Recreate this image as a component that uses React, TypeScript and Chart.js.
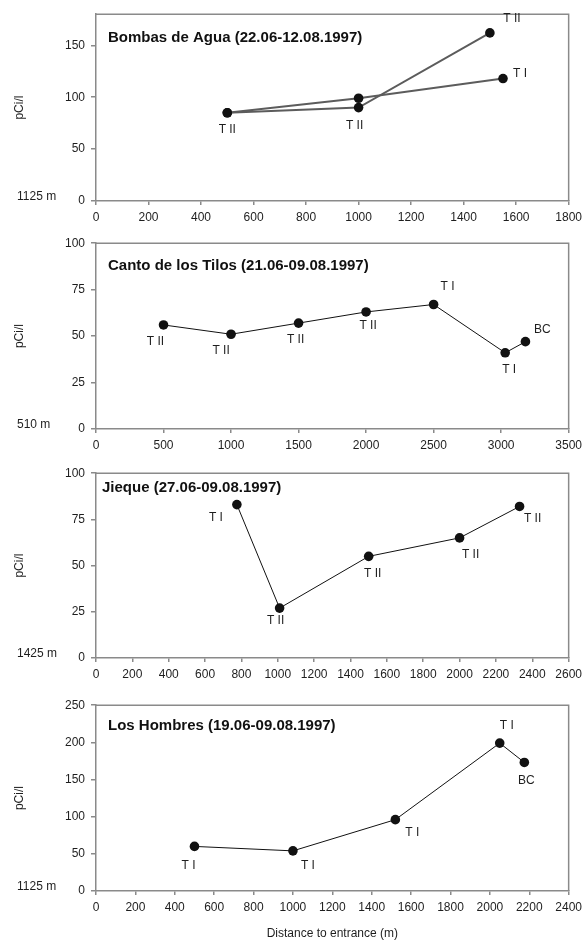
import React, { useEffect, useRef } from 'react';
import { Chart, registerables } from 'chart.js';

Chart.register(...registerables);

// ---------- DATA ----------
// Panel 1: Bombas de Agua (two transects)
const bombasTitle = 'Bombas de Agua (22.06-12.08.1997)';
const bombasElevation = '1125 m';
const bombasDistA = [500, 1000, 1550];
const bombasValA = [85, 99, 118];
const bombasLabA = ['', '', 'T I'];
const bombasDistB = [500, 1000, 1500];
const bombasValB = [85, 90, 162];
const bombasLabB = ['T II', 'T II', 'T II'];
const bombasXMax = 1800;
const bombasXStep = 200;
const bombasYMax = 180;
const bombasYStep = 50;

// Panel 2: Canto de los Tilos
const cantoTitle = 'Canto de los Tilos (21.06-09.08.1997)';
const cantoElevation = '510 m';
const cantoDist = [500, 1000, 1500, 2000, 2500, 3030, 3180];
const cantoVal = [56, 51, 57, 63, 67, 41, 47];
const cantoLab = ['T II', 'T II', 'T II', 'T II', 'T I', 'T I', 'BC'];
const cantoXMax = 3500;
const cantoXStep = 500;
const cantoYMax = 100;
const cantoYStep = 25;

// Panel 3: Jieque
const jiequeTitle = 'Jieque (27.06-09.08.1997)';
const jiequeElevation = '1425 m';
const jiequeDist = [775, 1010, 1500, 2000, 2330];
const jiequeVal = [83, 27, 55, 65, 82];
const jiequeLab = ['T I', 'T II', 'T II', 'T II', 'T II'];
const jiequeXMax = 2600;
const jiequeXStep = 200;
const jiequeYMax = 100;
const jiequeYStep = 25;

// Panel 4: Los Hombres
const hombresTitle = 'Los Hombres (19.06-09.08.1997)';
const hombresElevation = '1125 m';
const hombresDist = [500, 1000, 1520, 2050, 2175];
const hombresVal = [60, 54, 96, 199, 173];
const hombresLab = ['T I', 'T I', 'T I', 'T I', 'BC'];
const hombresXMax = 2400;
const hombresXStep = 200;
const hombresYMax = 250;
const hombresYStep = 50;

const yAxisLabel = 'pCi/l';
const xAxisLabel = 'Distance to entrance (m)';

// ---------- LAYOUT / STYLE (not data) ----------
const FONT = "'Liberation Sans', Arial, Helvetica, sans-serif";
const TEXT = '#1e1e1e';
const FRAME = '#8a8a8a';
const PAD_TOP = 12;
const PLOT_LEFT = 96;
const PLOT_RIGHT = 573;
const W = 587;

// label offsets (px) relative to point centre
const OFF_BOMBAS_A = [[0, 0], [0, 0], [17, -5]];
const OFF_BOMBAS_B = [[0, 17], [-4, 18], [22, -14]];
const OFF_CANTO = [[-8, 17], [-10, 16], [-3, 17], [2, 14], [14, -18], [4, 17], [17, -12]];
const OFF_JIEQUE = [[-21, 13], [-4, 13], [4, 17], [11, 17], [13, 12]];
const OFF_HOMBRES = [[-6, 19], [15, 15], [17, 13], [7, -17], [2, 18]];

type Series = { xs: number[]; ys: number[]; labs: string[]; offs: number[][] };
type PanelDef = {
  title: string;
  elevation: string;
  series: Series[];
  xMax: number;
  xStep: number;
  yMax: number;
  yStep: number;
  frameTop: number;
  frameBottom: number;
  titleDx: number;
  titleDy: number;
  lineColor: string;
  lineWidth: number;
  xTitle: boolean;
};

const PANELS: PanelDef[] = [
  {
    title: bombasTitle, elevation: bombasElevation,
    series: [
      { xs: bombasDistA, ys: bombasValA, labs: bombasLabA, offs: OFF_BOMBAS_A },
      { xs: bombasDistB, ys: bombasValB, labs: bombasLabB, offs: OFF_BOMBAS_B },
    ],
    xMax: bombasXMax, xStep: bombasXStep, yMax: bombasYMax, yStep: bombasYStep,
    frameTop: 13, frameBottom: 201, titleDx: 12, titleDy: 24,
    lineColor: '#5c5c5c', lineWidth: 2, xTitle: false,
  },
  {
    title: cantoTitle, elevation: cantoElevation,
    series: [{ xs: cantoDist, ys: cantoVal, labs: cantoLab, offs: OFF_CANTO }],
    xMax: cantoXMax, xStep: cantoXStep, yMax: cantoYMax, yStep: cantoYStep,
    frameTop: 242, frameBottom: 429, titleDx: 12, titleDy: 23,
    lineColor: '#111', lineWidth: 1, xTitle: false,
  },
  {
    title: jiequeTitle, elevation: jiequeElevation,
    series: [{ xs: jiequeDist, ys: jiequeVal, labs: jiequeLab, offs: OFF_JIEQUE }],
    xMax: jiequeXMax, xStep: jiequeXStep, yMax: jiequeYMax, yStep: jiequeYStep,
    frameTop: 472, frameBottom: 658, titleDx: 6, titleDy: 15,
    lineColor: '#111', lineWidth: 1, xTitle: false,
  },
  {
    title: hombresTitle, elevation: hombresElevation,
    series: [{ xs: hombresDist, ys: hombresVal, labs: hombresLab, offs: OFF_HOMBRES }],
    xMax: hombresXMax, xStep: hombresXStep, yMax: hombresYMax, yStep: hombresYStep,
    frameTop: 704, frameBottom: 891, titleDx: 12, titleDy: 21,
    lineColor: '#111', lineWidth: 1, xTitle: true,
  },
];

function Panel({ def }: { def: PanelDef }) {
  const ref = useRef<HTMLCanvasElement | null>(null);
  const xAxisH = def.xTitle ? 52 : 30;
  const frameH = def.frameBottom - def.frameTop;
  const height = PAD_TOP + frameH + xAxisH;
  const top = def.frameTop - PAD_TOP;

  useEffect(() => {
    if (!ref.current) return;
    const decor = {
      id: 'decor',
      afterDraw(chart: any) {
        const { ctx, chartArea: a, scales } = chart;
        const xs = scales.x;
        const ys = scales.y;
        ctx.save();
        // frame (top & right)
        ctx.strokeStyle = FRAME;
        ctx.lineWidth = 1.5;
        ctx.beginPath();
        ctx.moveTo(a.left, a.top);
        ctx.lineTo(a.right, a.top);
        ctx.lineTo(a.right, a.bottom);
        ctx.stroke();
        // title
        ctx.fillStyle = '#111';
        ctx.font = `bold 15px ${FONT}`;
        ctx.textAlign = 'left';
        ctx.textBaseline = 'middle';
        ctx.fillText(def.title, a.left + def.titleDx, a.top + def.titleDy);
        // point labels
        ctx.font = `12px ${FONT}`;
        ctx.fillStyle = TEXT;
        ctx.textAlign = 'center';
        def.series.forEach((s) => {
          s.labs.forEach((lab, i) => {
            if (!lab) return;
            const px = xs.getPixelForValue(s.xs[i]);
            const py = ys.getPixelForValue(s.ys[i]);
            ctx.fillText(lab, px + s.offs[i][0], py + s.offs[i][1]);
          });
        });
        // elevation label
        ctx.textAlign = 'left';
        ctx.fillText(def.elevation, 17, a.bottom - 4);
        // y-axis label (rotated)
        ctx.save();
        ctx.translate(20, (a.top + a.bottom) / 2);
        ctx.rotate(-Math.PI / 2);
        ctx.textAlign = 'center';
        ctx.fillText(yAxisLabel, 0, 0);
        ctx.restore();
        // x-axis title
        if (def.xTitle) {
          ctx.textAlign = 'center';
          ctx.fillText(xAxisLabel, (a.left + a.right) / 2, a.bottom + 43);
        }
        ctx.restore();
      },
    };

    const chart = new Chart(ref.current, {
      type: 'line',
      data: {
        datasets: def.series.map((s) => ({
          data: s.xs.map((x, i) => ({ x, y: s.ys[i] })),
          borderColor: def.lineColor,
          borderWidth: def.lineWidth,
          pointRadius: 4.8,
          pointHoverRadius: 4.8,
          pointBackgroundColor: '#111',
          pointBorderColor: '#111',
          pointBorderWidth: 0,
          tension: 0,
          fill: false,
        })),
      },
      options: {
        responsive: false,
        animation: false,
        devicePixelRatio: 1,
        layout: { padding: { top: PAD_TOP, left: 0, right: W - PLOT_RIGHT, bottom: 0 } },
        plugins: { legend: { display: false }, tooltip: { enabled: false }, title: { display: false } },
        scales: {
          x: {
            type: 'linear',
            min: 0,
            max: def.xMax,
            afterFit: (sc: any) => { sc.height = xAxisH; },
            ticks: {
              stepSize: def.xStep,
              autoSkip: false,
              maxRotation: 0,
              padding: 5,
              color: TEXT,
              font: { family: FONT, size: 12 },
              callback: (v: any) => String(v),
            },
            grid: { display: true, drawOnChartArea: false, drawTicks: true, tickLength: 4, color: FRAME, lineWidth: 1.5 },
            border: { display: true, color: FRAME, width: 1.5 },
          },
          y: {
            type: 'linear',
            min: 0,
            max: def.yMax,
            afterFit: (sc: any) => { sc.width = PLOT_LEFT; },
            afterBuildTicks: (sc: any) => {
              sc.ticks = sc.ticks.filter((t: any) => t.value % def.yStep === 0);
            },
            ticks: {
              stepSize: def.yStep,
              padding: 6,
              color: TEXT,
              font: { family: FONT, size: 12 },
              callback: (v: any) => String(v),
            },
            grid: { display: true, drawOnChartArea: false, drawTicks: true, tickLength: 5, color: FRAME, lineWidth: 1.5 },
            border: { display: true, color: FRAME, width: 1.5 },
          },
        },
      },
      plugins: [decor],
    } as any);
    return () => chart.destroy();
  }, []);

  return (
    <canvas
      ref={ref}
      width={W}
      height={height}
      style={{ position: 'absolute', left: 0, top, width: W, height, display: 'block' }}
    />
  );
}

export default function App() {
  return (
    <div style={{ position: 'absolute', left: 0, top: 0, width: W, height: 943, background: '#fff' }}>
      {PANELS.map((p, i) => (
        <Panel key={i} def={p} />
      ))}
    </div>
  );
}
